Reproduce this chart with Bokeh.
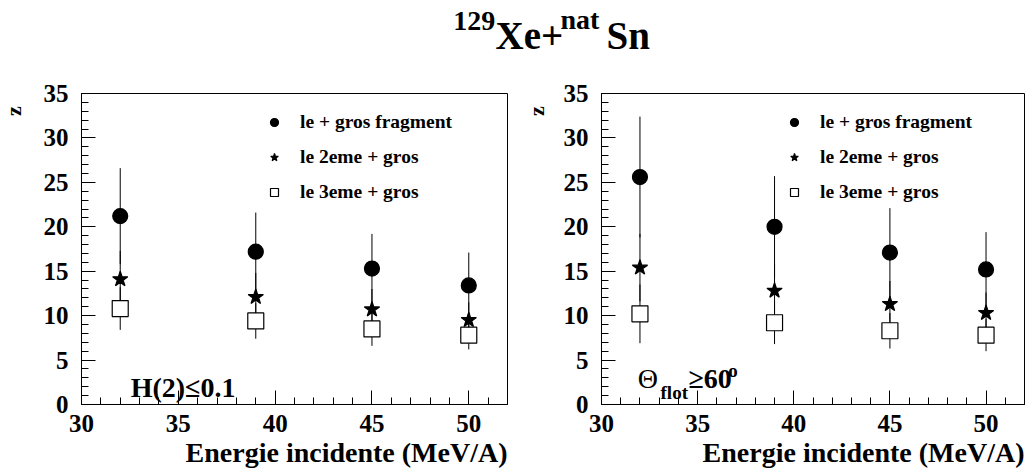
import math
from bokeh.plotting import figure
from bokeh.models import Range1d, FixedTicker, Label, Legend, LegendItem, ColumnDataSource, Title
from bokeh.layouts import column, row
from bokeh.embed import file_html
from bokeh.resources import INLINE

# ---------------- data ----------------
energies = [32, 39, 45, 50]

# left panel : H(2) <= 0.1
z1_left = [21.2, 17.2, 15.3, 13.4]
z1_left_err = [5.4, 4.4, 3.9, 3.7]
z2_left = [14.1, 12.1, 10.7, 9.5]
z2_left_err = [3.2, 2.7, 2.3, 2.0]
z3_left = [10.8, 9.4, 8.5, 7.8]
z3_left_err = [2.4, 2.0, 1.9, 1.6]

# right panel : Theta_flot >= 60
z1_right = [25.6, 20.0, 17.1, 15.2]
z1_right_err = [6.8, 5.7, 5.0, 4.2]
z2_right = [15.4, 12.8, 11.3, 10.3]
z2_right_err = [3.8, 3.0, 2.6, 2.3]
z3_right = [10.2, 9.2, 8.3, 7.8]
z3_right_err = [3.3, 2.4, 2.0, 1.8]

series_labels = ["le + gros fragment", "le 2eme + gros", "le 3eme + gros"]
x_major = [30, 35, 40, 45, 50]
x_minor = list(range(30, 53))
y_major = [0, 5, 10, 15, 20, 25, 30, 35]
y_minor = list(range(0, 36))
x_label = "Energie incidente (MeV/A)"
y_label = "z"

FONT = "Liberation Serif"
PANEL_H = 390


def make_panel(width, bl, br, z1, e1, z2, e2, z3, e3):
    p = figure(width=width, height=PANEL_H, x_range=Range1d(30, 52), y_range=Range1d(0, 35),
               output_backend="svg", toolbar_location=None,
               min_border_left=bl, min_border_right=br, min_border_top=15,
               min_border_bottom=64)
    p.xgrid.visible = False
    p.ygrid.visible = False
    p.outline_line_color = "black"
    p.outline_line_width = 1
    p.outline_line_alpha = 1
    p.background_fill_color = "white"
    p.border_fill_color = "white"
    for ax in (p.xaxis[0], p.yaxis[0]):
        ax.axis_line_color = "black"
        ax.major_tick_in = 14
        ax.major_tick_out = 0
        ax.minor_tick_in = 7
        ax.minor_tick_out = 0
        ax.major_tick_line_color = "black"
        ax.minor_tick_line_color = "black"
        ax.major_label_text_font = FONT
        ax.major_label_text_font_style = "bold"
        ax.major_label_text_font_size = "25px"
        ax.major_label_text_color = "black"
    p.xaxis.ticker = FixedTicker(ticks=x_major, minor_ticks=x_minor)
    p.yaxis.ticker = FixedTicker(ticks=y_major, minor_ticks=y_minor)
    p.xaxis.major_label_standoff = 10
    p.yaxis.major_label_standoff = 13

    renderers = []
    specs = [(z1, e1, "circle", 15, "black"),
             (z2, e2, "star", 16, "black"),
             (z3, e3, "square", 16, "white")]
    for z, e, _, _, _ in specs:
        src = ColumnDataSource(dict(x=energies,
                                    lo=[a - b for a, b in zip(z, e)],
                                    hi=[a + b for a, b in zip(z, e)]))
        p.segment(x0="x", y0="lo", x1="x", y1="hi", source=src,
                  line_color="black", line_width=1)
    for z, e, m, s, fc in specs:
        r = p.scatter(x=energies, y=z, marker=m, size=s, fill_color=fc,
                      line_color="black", line_width=1.2)
        renderers.append(r)

    legend = Legend(items=[LegendItem(label=lab, renderers=[r])
                           for lab, r in zip(series_labels, renderers)],
                    location=(183, 201), orientation="vertical",
                    border_line_alpha=0, background_fill_alpha=0,
                    padding=0, margin=0, spacing=13,
                    glyph_width=20, glyph_height=20, label_height=20,
                    label_standoff=16,
                    label_text_font=FONT, label_text_font_style="bold",
                    label_text_font_size="19.5px", label_text_color="black")
    p.add_layout(legend)

    p.add_layout(Title(text=x_label, align="right", standoff=0,
                       text_font=FONT, text_font_style="bold",
                       text_font_size="28px", text_color="black"), "below")
    return p


def make_zfig(width, baseline_x):
    zf = figure(width=width, height=PANEL_H, x_range=Range1d(0, width),
                y_range=Range1d(0, PANEL_H), output_backend="svg", toolbar_location=None,
                min_border_left=0, min_border_right=0, min_border_top=0,
                min_border_bottom=0)
    zf.axis.visible = False
    zf.xgrid.visible = False
    zf.ygrid.visible = False
    zf.outline_line_color = None
    zf.border_fill_color = "white"
    zf.add_layout(Label(x=baseline_x - 7.3, y=PANEL_H - 22, text=y_label,
                        angle=math.pi / 2, text_align="center",
                        text_baseline="alphabetic", text_font=FONT,
                        text_font_style="bold", text_font_size="22px",
                        text_color="black"))
    return zf


z_left = make_zfig(30, 20)
p1 = make_panel(481, 51, 4, z1_left, z1_left_err, z2_left, z2_left_err,
                z3_left, z3_left_err)
z_right = make_zfig(40, 32)
p2 = make_panel(477, 50, 4, z1_right, z1_right_err, z2_right, z2_right_err,
                z3_right, z3_right_err)

# panel annotations
p1.add_layout(Label(x=32.54, y=1.94, text="H(2)≤0.1", text_baseline="alphabetic",
                    text_font=FONT, text_font_style="bold", text_font_size="28px",
                    text_color="black"))
p2.add_layout(Label(x=31.88, y=2.95, text="Θ", text_baseline="alphabetic",
                    text_font=FONT, text_font_style="normal", text_font_size="28px",
                    text_color="black"))
p2.add_layout(Label(x=33.07, y=1.39, text="flot", text_baseline="alphabetic",
                    text_font=FONT, text_font_style="bold", text_font_size="19px",
                    text_color="black"))
p2.add_layout(Label(x=34.52, y=2.95, text="≥60", text_baseline="alphabetic",
                    text_font=FONT, text_font_style="bold", text_font_size="28px",
                    text_color="black"))
p2.add_layout(Label(x=36.59, y=3.86, text="o", text_baseline="alphabetic",
                    text_font=FONT, text_font_style="bold", text_font_size="19px",
                    text_color="black"))

# title figure
pt = figure(width=1028, height=78, x_range=Range1d(0, 1028), y_range=Range1d(0, 78),
            output_backend="svg", toolbar_location=None,
            min_border_left=0, min_border_right=0, min_border_top=0, min_border_bottom=0)
pt.axis.visible = False
pt.xgrid.visible = False
pt.ygrid.visible = False
pt.outline_line_color = None
pt.border_fill_color = "white"
for txt, x, y, fs in [("129", 452.7, 57.9, "28px"), ("Xe+", 495, 42.9, "39px"),
                      ("nat", 560, 58.9, "28px"), ("Sn", 606, 42.9, "39px")]:
    pt.add_layout(Label(x=x, y=y, text=txt, text_baseline="alphabetic",
                        text_font=FONT, text_font_style="bold", text_font_size=fs,
                        text_color="black"))

layout = column(pt, row(z_left, p1, z_right, p2))
open("out.html", "w").write(file_html(layout, INLINE))
